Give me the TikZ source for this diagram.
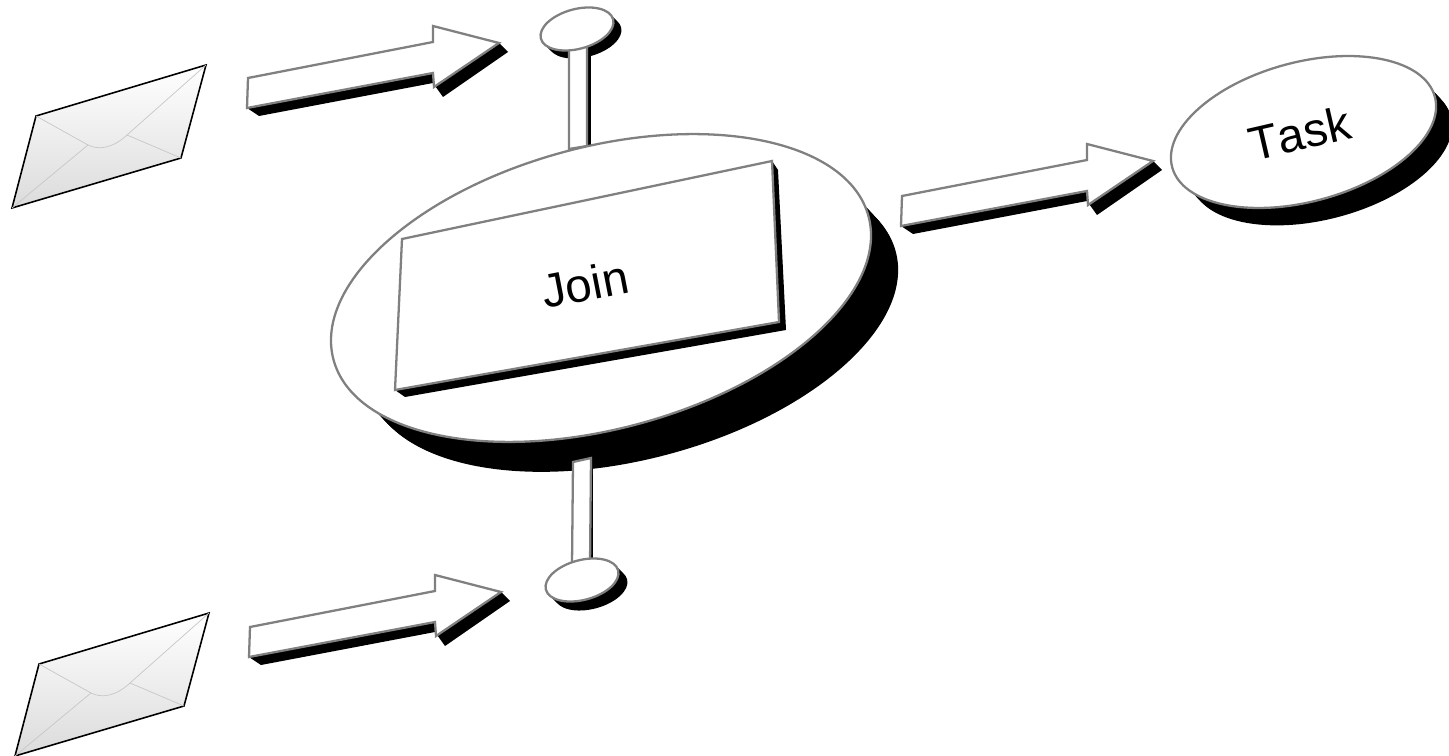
\documentclass[tikz,border=0pt]{standalone}
\usepackage{fontspec}
\setmainfont[Kerning=Off]{Liberation Sans}
\usetikzlibrary{shapes.geometric, calc}
\definecolor{edgegray}{gray}{0.5}
\tikzset{
  disc/.style={
    ellipse,
    draw=edgegray,
    fill=white,
    line width=1.3pt,
    rotate=15,
    inner sep=0pt,
    outer sep=0pt
  },
  face/.style={
    draw=edgegray,
    fill=white,
    line width=1.3pt,
    line join=miter
  },
  label/.style={
    font=\fontsize{27}{27}\selectfont,
    inner sep=0pt
  },
  flap/.style={
    draw=black!22,
    line width=0.4pt
  },
  pics/discshadow/.style n args={5}{code={
    \foreach \k in {0,...,#3} {
      \fill[black, shift={(\k*#4,\k*#5)}, rotate=15] (0,0) ellipse [x radius=#1*0.02cm, y radius=#2*0.02cm];
    }
  }},
  pics/blockarrow/.style={code={
    \fill[black] (-1,30) -- (11,38) -- (185,5) -- (195,19) -- (260,-26) -- (251,-35) -- (186,9) -- (185,-5) -- cycle;
    \draw[face] (0,0) -- (185,-36) -- (185,-52) -- (251,-35) -- (186,9) -- (185,-5) -- (-1,30) -- cycle;
  }},
  pics/envelope/.style={code={
    \shadedraw[top color=white, bottom color=black!14, draw=black, line width=0.9pt, line join=miter] (36,116) -- (206,65) -- (181,158) -- (12,208) -- cycle;
    \draw[flap] (36,116) -- (88,145) .. controls (98,150) and (112,149) .. (127,135) -- (206,65);
    \draw[flap] (12,208) -- (88,145);
    \draw[flap] (181,158) -- (127,135);
  }}
}
\begin{document}
\begin{tikzpicture}[x=0.02cm, y=-0.02cm]
  \useasboundingbox (0,0) rectangle (1449,756);

  % ENVELOPES
  \pic (mail_top) at (0,0) {envelope};
  \pic (mail_bottom) at (3,548) {envelope};

  % BLOCK ARROWS
  \pic (arrow_top) at (248,78) {blockarrow};
  \pic (arrow_bottom) at (250,627) {blockarrow};
  \pic (arrow_task) at (902,196) {blockarrow};

  % TOP PORT
  \pic at (577,29) {discshadow={37.4}{19.9}{8}{1}{1}};
  \fill[black] (587,40) -- (591,40) -- (591,146) -- (587,146) -- cycle;
  \draw[face] (569,40) -- (587,40) -- (587,146) -- (569,149) -- cycle;
  \node (port_top) [disc, minimum width=1.496cm, minimum height=0.796cm] at (577,29) {};

  % MAIN DISC
  \pic at (601,288) {discshadow={272}{137}{32}{1}{1.06}};
  \node (join_disc) [disc, minimum width=11.08cm, minimum height=5.64cm] at (601,288) {};

  % BOTTOM PORT
  \pic at (582,580) {discshadow={37.4}{19.9}{9}{1}{1}};
  \fill[black] (590,458) -- (593,458) -- (593,560) -- (590,560) -- cycle;
  \draw[face] (573,462) -- (591,458) -- (590,565) -- (572,565) -- cycle;
  \node (port_bottom) [disc, minimum width=1.496cm, minimum height=0.796cm] at (582,580) {};

  % JOIN BOX
  \fill[black] (395,390) -- (405,397) -- (786,330) -- (778,170) -- (772,161) -- cycle;
  \draw[face] (402,239) -- (772,161) -- (779,322) -- (395,390) -- cycle;
  \node (join_label) [label, rotate=11] at (585,284) {Join};

  % TASK DISC
  \pic at (1303.5,132) {discshadow={134}{68}{18}{1}{1.06}};
  \node (task_disc) [disc, minimum width=5.44cm, minimum height=2.788cm] at (1303.5,132) {};
  \node (task_label) [label, rotate=13] at (1300,133) {Task};

\end{tikzpicture}
\end{document}
